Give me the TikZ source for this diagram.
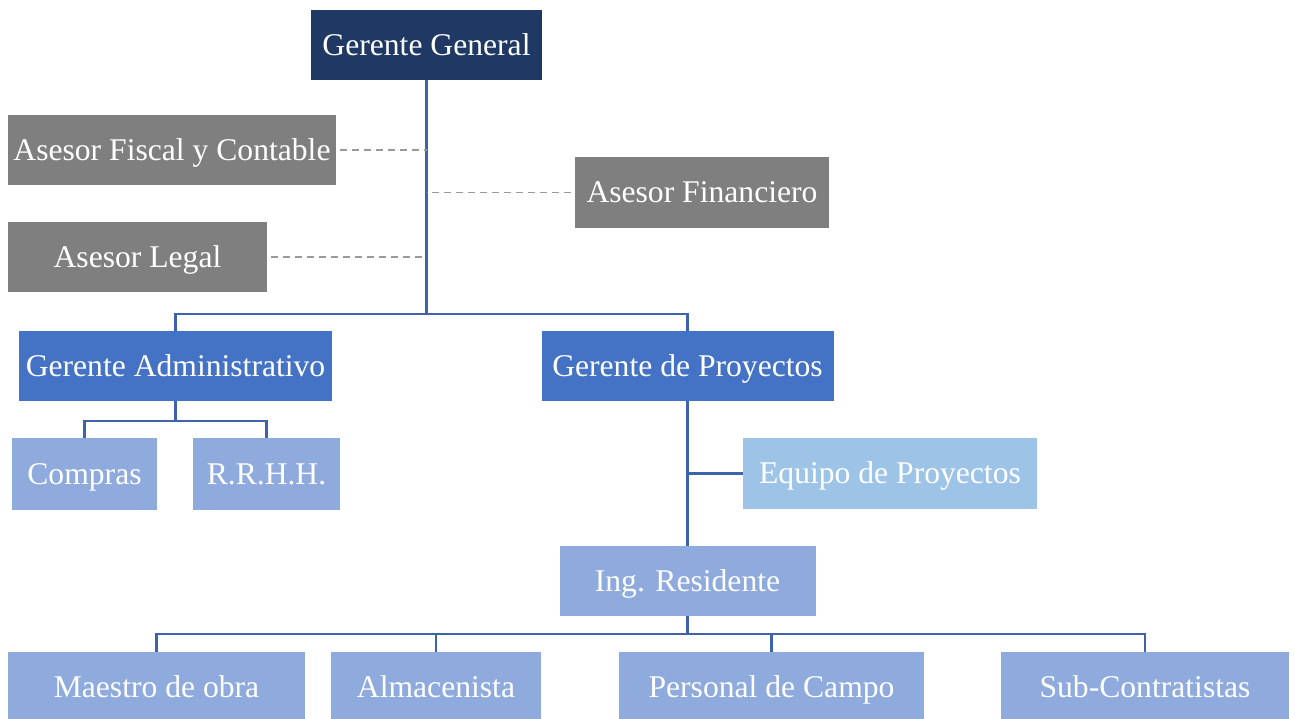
\documentclass[tikz,border=0pt]{standalone}
\usepackage{fontspec}
\setmainfont{Liberation Serif}
\usepackage{tikz}
\usetikzlibrary{positioning}
\definecolor{azuloscuro}{HTML}{203864}
\definecolor{azulmedio}{HTML}{4472C4}
\definecolor{azulclaro}{HTML}{8FAADC}
\definecolor{celeste}{HTML}{9DC3E6}
\definecolor{gris}{HTML}{7F7F7F}
\definecolor{linea}{HTML}{3F62AC}
\definecolor{guion}{HTML}{9A9A9A}

\begin{document}
\begin{tikzpicture}[
    x=0.02cm, y=-0.02cm,
    caja/.style={
        inner sep=0pt,
        text=white,
        font=\fontsize{18}{20}\selectfont,
        text height=12.5pt,
        text depth=1pt,
        minimum height=70*0.02cm
    },
    jefe/.style={caja, fill=azuloscuro},
    asesor/.style={caja, fill=gris},
    gerente/.style={caja, fill=azulmedio},
    area/.style={caja, fill=azulclaro},
    equipo/.style={caja, fill=celeste},
    rama/.style={line width=1.4pt, linea},
    apoyo/.style={dash pattern=on 4pt off 2.8pt, line width=1pt, guion}
]

    \useasboundingbox (0,0) rectangle (1295,719);

    % Direccion
    \node[jefe, minimum width=231*0.02cm] (gg) at (426.5,45) {Gerente General};

    % Asesores
    \node[asesor, minimum width=328*0.02cm] (fiscal) at (172,150) {Asesor Fiscal y Contable};
    \node[asesor, minimum width=259*0.02cm] (legal) at (137.5,257) {Asesor Legal};
    \node[asesor, minimum width=254*0.02cm, minimum height=71*0.02cm] (financiero) at (702,192.5) {Asesor Financiero};

    % Gerencias
    \node[gerente, minimum width=313*0.02cm] (admin) at (175.5,366) {Gerente Administrativo};
    \node[gerente, minimum width=292*0.02cm] (proy) at (687.5,366) {Gerente de Proyectos};

    % Administracion
    \node[area, minimum width=145*0.02cm, minimum height=71*0.02cm] (compras) at (84.5,474) {Compras};
    \node[area, minimum width=147*0.02cm, minimum height=71*0.02cm] (rrhh) at (266.5,474) {R.R.H.H.};

    % Proyectos
    \node[equipo, minimum width=294*0.02cm, minimum height=71*0.02cm] (equipo) at (890,473.5) {Equipo de Proyectos};
    \node[area, minimum width=256*0.02cm] (ing) at (687.5,581) {Ing. Residente};

    % Obra
    \node[area, minimum width=297*0.02cm] (maestro) at (156.5,687) {Maestro de obra};
    \node[area, minimum width=210*0.02cm] (almacen) at (436,687) {Almacenista};
    \node[area, minimum width=305*0.02cm] (personal) at (771.5,687) {Personal de Campo};
    \node[area, minimum width=288*0.02cm] (sub) at (1145,687) {Sub-Contratistas};

    % Puntos de reparto
    \coordinate (barra1) at (426.5,314);
    \coordinate (barra2) at (175.5,421);
    \coordinate (barra3) at (687.5,634);

    % Lineas de mando
    \draw[rama] (gg) -- (barra1);
    \draw[rama] (admin.north) |- (barra1) -| (proy.north);
    \draw[rama] (admin) -- (barra2);
    \draw[rama] (compras.north) |- (barra2) -| (rrhh.north);
    \draw[rama] (proy) -- (ing);
    \draw[rama] (equipo.west) -- (equipo.west -| proy.south);
    \draw[rama] (ing) -- (barra3);
    \draw[rama] (maestro.north) |- (barra3) -| (sub.north);
    \draw[rama] (almacen.north) -- (almacen.north |- barra3);
    \draw[rama] (personal.north) -- (personal.north |- barra3);

    % Asesorias
    \draw[apoyo] (fiscal.east) ++(4,0) -- (fiscal.east -| gg.south);
    \draw[apoyo] (legal.east) ++(4,0) -- (legal.east -| gg.south);
    \draw[apoyo] (financiero.west) ++(-4,0) -- (financiero.west -| gg.south);

\end{tikzpicture}
\end{document}
